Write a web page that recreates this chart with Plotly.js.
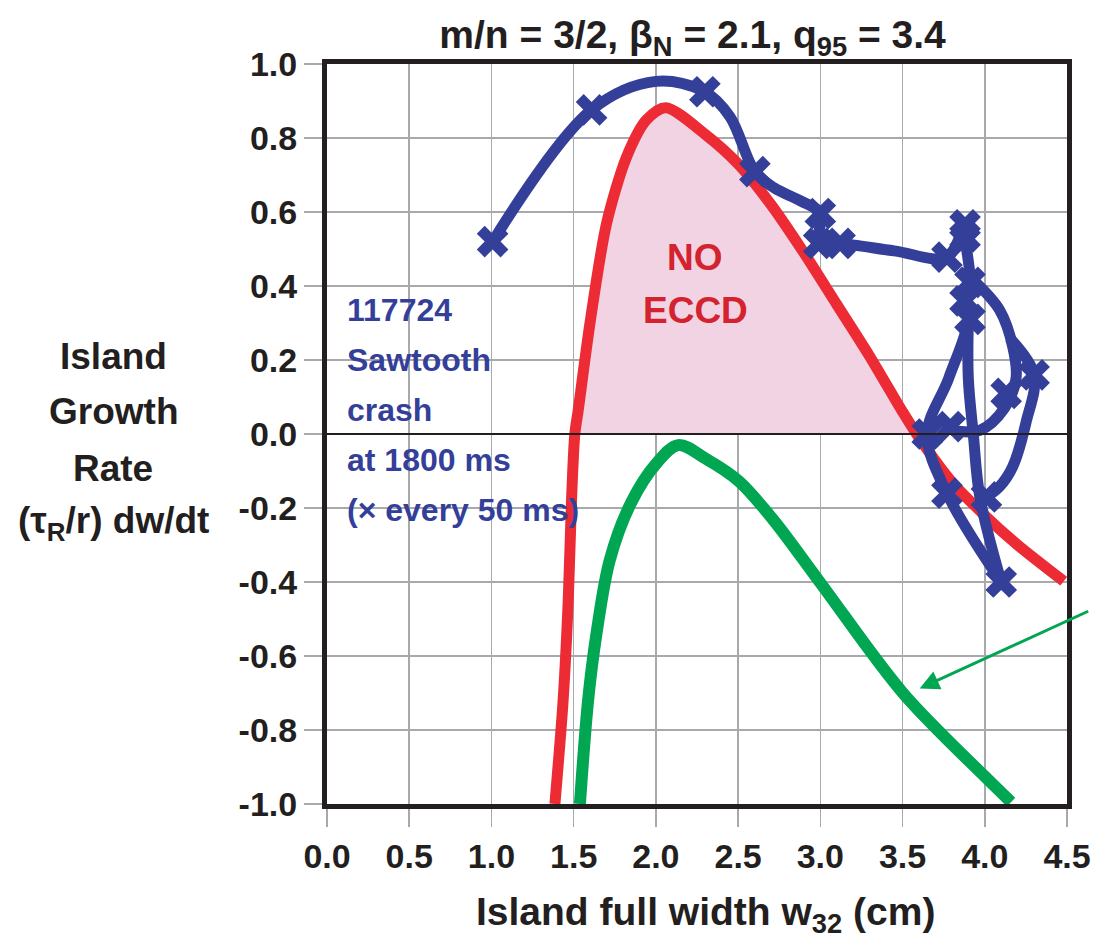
<!DOCTYPE html>
<html>
<head>
<meta charset="utf-8">
<script src="https://cdn.plot.ly/plotly-3.0.1.min.js"></script>
<style>html,body{margin:0;padding:0;background:#fff;}#chart{width:1095px;height:945px;}</style>
</head>
<body>
<div id="chart"></div>
<script>
// ---- data ----
const redX = [1.386, 1.436, 1.467, 1.487, 1.507, 1.528, 1.599, 1.70, 1.822, 1.943, 2.06, 2.30, 2.50, 2.70, 2.90, 3.10, 3.30, 3.50, 3.60, 3.80, 4.00, 4.20, 4.48];
const redY = [-1.0, -0.719, -0.449, -0.178, 0.0, 0.065, 0.299, 0.569, 0.749, 0.849, 0.882, 0.810, 0.730, 0.620, 0.490, 0.350, 0.210, 0.060, -0.010, -0.130, -0.220, -0.300, -0.398];

const greenX = [1.538, 1.588, 1.639, 1.72, 1.85, 2.004, 2.136, 2.30, 2.503, 2.714, 3.003, 3.504, 4.001, 4.16];
const greenY = [-1.0, -0.719, -0.539, -0.34, -0.185, -0.079, -0.03, -0.066, -0.127, -0.232, -0.404, -0.701, -0.926, -0.995];

const blueLineX = [1.007, 1.609, 2.0, 2.298, 2.45, 2.602, 2.72, 2.88, 3.00, 2.99, 3.12, 3.45, 3.77, 3.88, 3.88, 3.91, 3.88, 3.90, 3.78, 3.65, 3.77, 4.10, null,
  3.90, 3.90, 3.93, 3.97, 4.10, null,
  3.92, 4.09, 4.17, 4.19, 4.12, 3.97, 3.80, null,
  4.15, 4.30, 4.25, 4.17, 4.09, 4.01];
const blueLineY = [0.52, 0.876, 0.953, 0.925, 0.858, 0.709, 0.665, 0.63, 0.596, 0.515, 0.515, 0.495, 0.478, 0.565, 0.533, 0.41, 0.36, 0.31, 0.15, 0.0, -0.16, -0.40, null,
  0.31, 0.15, 0.0, -0.17, -0.40, null,
  0.42, 0.335, 0.236, 0.15, 0.07, 0.01, 0.01, null,
  0.26, 0.16, 0.03, -0.088, -0.142, -0.17];

const blueMarkX = [1.007, 1.609, 2.298, 2.602, 3.00, 2.99, 3.12, 3.77, 3.88, 3.88, 3.91, 3.88, 3.91, 4.30, 4.13, 3.65, 3.79, 3.77, 4.01, 4.10];
const blueMarkY = [0.52, 0.876, 0.925, 0.709, 0.596, 0.515, 0.515, 0.478, 0.565, 0.533, 0.41, 0.36, 0.31, 0.16, 0.11, 0.0, 0.02, -0.16, -0.17, -0.40];

const xTickVals = [0, 0.5, 1, 1.5, 2, 2.5, 3, 3.5, 4, 4.5];
const xTickText = ['0.0', '0.5', '1.0', '1.5', '2.0', '2.5', '3.0', '3.5', '4.0', '4.5'];
const yTickVals = [-1, -0.8, -0.6, -0.4, -0.2, 0, 0.2, 0.4, 0.6, 0.8, 1];
const yTickText = ['-1.0', '-0.8', '-0.6', '-0.4', '-0.2', '0.0', '0.2', '0.4', '0.6', '0.8', '1.0'];

const titleText = 'm/n = 3/2, \u03B2<sub>N</sub> = 2.1, q<sub>95</sub> = 3.4';
const xTitleText = 'Island full width w<sub>32</sub> (cm)';
const yTitleLines = ['Island', 'Growth', 'Rate', '(\u03C4<sub>R</sub>/r) dw/dt'];
const shotLines = ['117724', 'Sawtooth', 'crash', 'at 1800 ms', '(\u00D7 every 50 ms)'];
const noEccdLines = ['NO', 'ECCD'];

// ---- styles ----
const FONT = 'Liberation Sans, Arial, Helvetica, sans-serif';
const DARK = '#231f20';
const RED = '#ec2b34';
const GREEN = '#00a651';
const BLUE = '#343f99';
const PINK = '#f1d3e4';
const GRID = '#a7a9ac';

// pink region: positive part of the red curve (with interpolated zero crossings)
function positivePart(xs, ys) {
  const px = [], py = [];
  for (let i = 0; i < xs.length; i++) {
    if (i > 0 && (ys[i - 1] < 0) !== (ys[i] < 0)) {
      const t = (0 - ys[i - 1]) / (ys[i] - ys[i - 1]);
      px.push(xs[i - 1] + t * (xs[i] - xs[i - 1]));
      py.push(0);
    }
    if (ys[i] >= 0) { px.push(xs[i]); py.push(ys[i]); }
  }
  return { x: px, y: py };
}
const pos = positivePart(redX, redY);

const traces = [
  { x: pos.x, y: pos.y, mode: 'lines', fill: 'toself', fillcolor: PINK,
    line: { color: 'rgba(0,0,0,0)', width: 0, shape: 'spline', smoothing: 0.8 }, hoverinfo: 'skip' },
  { x: redX, y: redY, mode: 'lines', line: { color: RED, width: 11, shape: 'spline', smoothing: 0.8 } },
  { x: greenX, y: greenY, mode: 'lines', line: { color: GREEN, width: 12, shape: 'spline', smoothing: 0.95 } },
  { x: blueLineX, y: blueLineY, mode: 'lines', connectgaps: false,
    line: { color: BLUE, width: 11, shape: 'spline', smoothing: 1 } },
  { x: blueMarkX, y: blueMarkY, mode: 'markers',
    marker: { symbol: 'x', size: 28, color: BLUE, line: { width: 0 } } }
];

const annotations = [];
// y-axis title lines
const yTitleYs = [0.605, 0.530, 0.454, 0.380];
yTitleLines.forEach((t, i) => annotations.push({
  text: t, xref: 'paper', yref: 'paper', x: -0.289, y: yTitleYs[i], xanchor: 'center', yanchor: 'middle',
  showarrow: false, font: { family: FONT, size: 37, color: DARK, weight: 'bold' }
}));
// x-axis title
annotations.push({ text: xTitleText, xref: 'paper', yref: 'paper', x: 0.511, y: -0.15,
  xanchor: 'center', yanchor: 'middle', showarrow: false,
  font: { family: FONT, size: 39, color: DARK, weight: 'bold' } });
// shot annotation (blue)
const shotYs = [0.335, 0.2, 0.065, -0.07, -0.205];
shotLines.forEach((t, i) => annotations.push({
  text: t, xref: 'x', yref: 'y', x: 0.108, y: shotYs[i], xanchor: 'left', yanchor: 'middle',
  showarrow: false, font: { family: FONT, size: 32, color: BLUE, weight: 'bold' }
}));
// NO ECCD
const noYs = [0.476, 0.335];
noEccdLines.forEach((t, i) => annotations.push({
  text: t, xref: 'x', yref: 'y', x: 2.24, y: noYs[i], xanchor: 'center', yanchor: 'middle',
  showarrow: false, font: { family: FONT, size: 37, color: '#d2232e', weight: 'bold' }
}));
// green arrow
annotations.push({ text: '', xref: 'x', yref: 'y', x: 3.604, y: -0.688, ax: 170, ay: -78,
  showarrow: true, arrowhead: 2, arrowsize: 1.3, arrowwidth: 3, arrowcolor: GREEN });

const layout = {
  width: 1095, height: 945,
  margin: { l: 327, r: 28, t: 64, b: 141 },
  paper_bgcolor: '#fff', plot_bgcolor: '#fff',
  showlegend: false,
  font: { family: FONT, color: DARK },
  title: { text: titleText, font: { family: FONT, size: 39, color: DARK, weight: 'bold' },
    x: 0.494, xref: 'paper', xanchor: 'center', y: 0.964, yref: 'container', yanchor: 'middle' },
  xaxis: {
    range: [0, 4.5], tickmode: 'array', tickvals: xTickVals, ticktext: xTickText,
    showgrid: true, gridcolor: GRID, gridwidth: 1.5, zeroline: false,
    showline: true, linecolor: DARK, linewidth: 5, mirror: true,
    ticks: 'outside', ticklen: 18, tickwidth: 1.5, tickcolor: GRID,
    tickfont: { family: FONT, size: 34, color: DARK, weight: 'bold' }
  },
  yaxis: {
    range: [-1, 1], tickmode: 'array', tickvals: yTickVals, ticktext: yTickText,
    showgrid: true, gridcolor: GRID, gridwidth: 1.5, zeroline: false,
    showline: true, linecolor: DARK, linewidth: 5, mirror: true,
    ticks: 'outside', ticklen: 18, tickwidth: 1.5, tickcolor: GRID,
    tickfont: { family: FONT, size: 34, color: DARK, weight: 'bold' }
  },
  shapes: [
    { type: 'line', xref: 'paper', yref: 'y', x0: 0, x1: 1, y0: 0, y1: 0, layer: 'above',
      line: { color: DARK, width: 2 } }
  ],
  annotations: annotations
};

Plotly.newPlot('chart', traces, layout, { displayModeBar: false, staticPlot: true });
</script>
</body>
</html>
